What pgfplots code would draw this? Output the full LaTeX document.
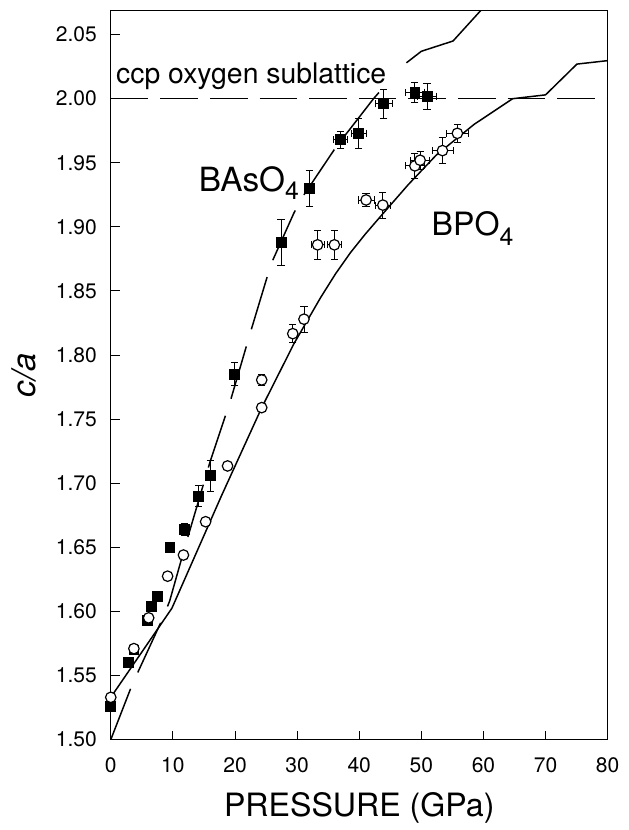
\documentclass[border=0pt]{standalone}
\usepackage{fontspec}
\setmainfont{TeX Gyre Heros}
\usepackage{pgfplots}
\usepackage{pgfplotstable}
\pgfplotsset{compat=1.18}
\pgfplotstableread{
x y ex ey
0 1.526 0 0
2.77 1.560 0 0
3.72 1.570 0 0
5.85 1.593 0 0
6.54 1.604 0 0
7.45 1.612 0 0
9.52 1.650 0 0
11.8 1.664 0 0.005
14.1 1.690 0 0.008
16.0 1.706 0 0.012
19.96 1.785 0 0.009
27.4 1.888 0.8 0.0177
32.0 1.930 0.8 0.0137
36.98 1.968 1.07 0.0067
39.9 1.973 1.2 0.012
43.96 1.996 1.4 0.011
48.96 2.005 1.5 0.0077
50.9 2.002 1.6 0.010
}\basodata
\pgfplotstableread{
x y ex ey
0 1.533 0 0
3.72 1.571 0 0
6.1 1.595 0 0
9.15 1.6275 0 0
11.7 1.644 0 0
15.27 1.670 0 0
18.8 1.7135 0 0
24.3 1.759 0 0.003
24.3 1.7806 0 0.004
29.3 1.8167 0.6 0.007
31.1 1.828 0.6 0.010
33.3 1.886 1.07 0.0112
36.0 1.886 1.07 0.0112
41.1 1.921 1.28 0.005
43.8 1.917 1.2 0.010
48.96 1.9476 1.5 0.010
49.8 1.952 1.5 0.007
53.4 1.9595 1.7 0.010
55.8 1.973 1.7 0.007
}\bpodata
\pgfplotstableread{
x y
0 1.500
3.45 1.543
8.4 1.595
9.47 1.608
11.8 1.648
16.0 1.717
19.3 1.765
22.5 1.818
25.8 1.871
29.5 1.911
31.1 1.925
36.5 1.964
38.3 1.975
42.3 2.000
45.0 2.015
}\basolineA
\pgfplotstableread{
x y
47.6 2.028
50.0 2.037
55.1 2.045
59.6 2.069
}\basolineB
\pgfplotstableread{
x y
0 1.533
9.84 1.6025
17.8 1.690
24.3 1.759
29.5 1.809
33.8 1.845
36.2 1.8635
38.6 1.880
41.0 1.8945
43.4 1.908
47.9 1.933
52.4 1.956
58.5 1.980
64.7 2.000
70.0 2.003
75.05 2.027
80.0 2.0297
}\bpoline
\begin{document}
\begin{tikzpicture}
\begin{axis}[
  scale only axis, width=250.5pt, height=367.35pt,
  xmin=0, xmax=80, ymin=1.5, ymax=2.0685,
  xtick={0,10,20,30,40,50,60,70,80},
  ytick={1.50,1.55,1.60,1.65,1.70,1.75,1.80,1.85,1.90,1.95,2.00,2.05},
  tick pos=left, tick align=inside, major tick length=4.5pt,
  tick style={black, line width=0.5pt},
  axis line style={line width=0.5pt},
  /pgf/number format/assume math mode=true,
  yticklabel style={/pgf/number format/fixed, /pgf/number format/fixed zerofill, /pgf/number format/precision=2, anchor=east, inner sep=0pt, xshift=-6.85pt},
  xticklabel style={anchor=north, inner sep=0pt, yshift=-8.65pt},
  ticklabel style={font=\fontsize{10.6}{12}\selectfont},
  xlabel={PRESSURE (GPa)},
  ylabel={\textit{c/a}},
  xlabel style={font=\fontsize{16.2}{18}\selectfont, at={(axis description cs:0.5,-0.1056)}, anchor=base},
  ylabel style={font=\fontsize{16.5}{18}\selectfont, at={(axis description cs:-0.151,0.5)}, anchor=base},
  clip=true,
]
% reference line
\addplot[black, line width=0.7pt, dash pattern=on 19pt off 6pt] coordinates {(0,2.0) (80,2.0)};
% data with error bars
\addplot[only marks, mark=square*, mark size=2.5pt, mark options={fill=black, draw=black, solid},
  error bars/.cd, x dir=both, x explicit, y dir=both, y explicit,
  error bar style={line width=0.4pt, black, solid},
  error mark options={rotate=90, mark size=1.8pt, line width=0.4pt, black, solid}]
  table[x=x, y=y, x error=ex, y error=ey] {\basodata};
\addplot[only marks, mark=*, mark size=2.65pt, mark options={fill=white, draw=black, line width=0.6pt, solid},
  error bars/.cd, x dir=both, x explicit, y dir=both, y explicit,
  error bar style={line width=0.4pt, black, solid},
  error mark options={rotate=90, mark size=1.8pt, line width=0.4pt, black, solid}]
  table[x=x, y=y, x error=ex, y error=ey] {\bpodata};
% model curves
\addplot[black, line width=0.75pt, no marks, dash pattern=on 27.5pt off 9pt] table[x=x, y=y] {\basolineA};
\addplot[black, line width=0.75pt, no marks] table[x=x, y=y] {\basolineB};
\addplot[black, line width=0.75pt, no marks] table[x=x, y=y] {\bpoline};
% labels
\node[anchor=base west, inner sep=0pt, font=\fontsize{14.3}{16}\selectfont] at (axis cs:0.8,2.0116) {ccp oxygen sublattice};
\node[anchor=base west, inner sep=0pt, font=\fontsize{16.8}{18}\selectfont] at (axis cs:14.1,1.9277) {BAsO\raisebox{-4.3pt}{\fontsize{12.5}{13}\selectfont 4}};
\node[anchor=base west, inner sep=0pt, font=\fontsize{16.2}{18}\selectfont] at (axis cs:51.6,1.8929) {BPO\raisebox{-4.8pt}{\fontsize{12.5}{13}\selectfont 4}};
\end{axis}
\path[use as bounding box] ([shift={(-55.85pt,-42.15pt)}]current axis.south west) rectangle ([shift={(10.65pt,5.5pt)}]current axis.north east);
\end{tikzpicture}
\end{document}
